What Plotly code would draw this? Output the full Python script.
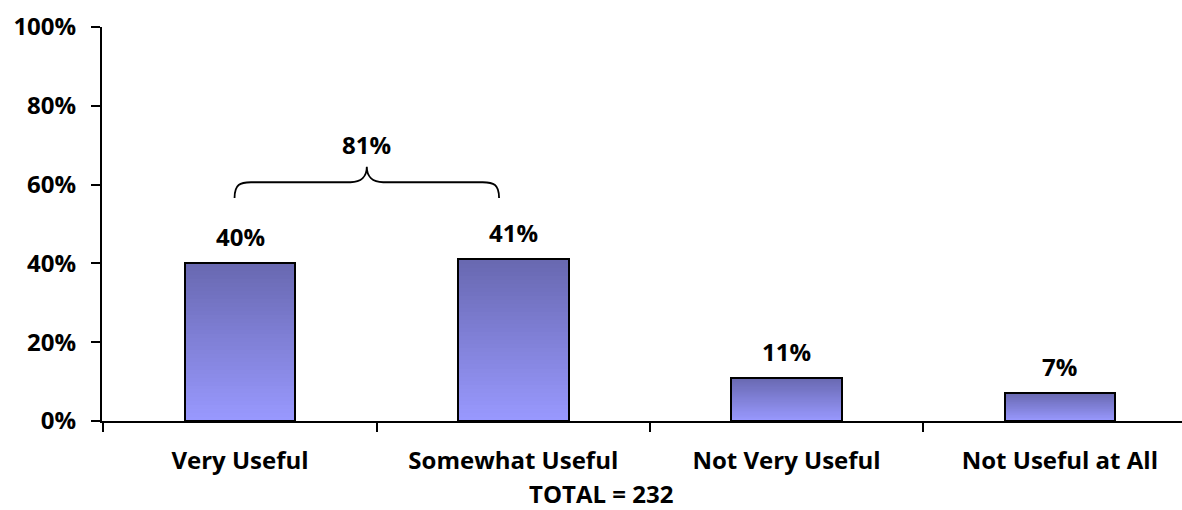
import plotly.graph_objects as go

# Survey results
categories = ["Very Useful", "Somewhat Useful", "Not Very Useful", "Not Useful at All"]
values = [40, 41, 11, 7]
value_labels = ["40%", "41%", "11%", "7%"]
combined_label = "81%"
total_label = "TOTAL = 232"
y_ticks = [0, 20, 40, 60, 80, 100]
y_tick_labels = ["0%", "20%", "40%", "60%", "80%", "100%"]

FONT = "Open Sans"
FS = 24
TOP_RGB = (104, 104, 176)
BOTTOM_RGB = (153, 153, 255)
N_LAYERS = 40
BAR_WIDTH = 0.405

fig = go.Figure()

# Vertical gradient in each bar: stacked overlays, darkest at the top
for k in range(N_LAYERS):
    t = (k + 0.5) / N_LAYERS
    rgb = tuple(round(a + (b - a) * t) for a, b in zip(TOP_RGB, BOTTOM_RGB))
    frac = 1 - k / N_LAYERS
    fig.add_trace(go.Bar(
        x=categories,
        y=[v * frac for v in values],
        width=BAR_WIDTH,
        marker=dict(color="rgb(%d,%d,%d)" % rgb, line=dict(width=0)),
        hoverinfo="skip",
        showlegend=False,
    ))

# Bar outlines
fig.add_trace(go.Bar(
    x=categories,
    y=values,
    width=BAR_WIDTH,
    marker=dict(color="rgba(0,0,0,0)", line=dict(color="black", width=2)),
    hoverinfo="skip",
    showlegend=False,
))

# Value labels above the bars
for cat, v, lab in zip(categories, values, value_labels):
    fig.add_annotation(
        x=cat, y=v, text="<b>%s</b>" % lab, showarrow=False,
        yanchor="bottom", yshift=8,
        font=dict(family=FONT, size=FS, color="black"),
    )

# Curly brace grouping the two "useful" answers
x0, x1 = -0.02, 0.948
xm = (x0 + x1) / 2
y_end, y_bar, y_tip = 56.6, 60.6, 64.5
dx = 0.06
brace = (
    f"M {x0},{y_end} C {x0},{y_bar - 0.5} {x0 + 0.02},{y_bar} {x0 + dx},{y_bar} "
    f"L {xm - dx},{y_bar} C {xm - 0.02},{y_bar} {xm},{y_bar + 1.5} {xm},{y_tip} "
    f"C {xm},{y_bar + 1.5} {xm + 0.02},{y_bar} {xm + dx},{y_bar} "
    f"L {x1 - dx},{y_bar} C {x1 - 0.02},{y_bar} {x1},{y_bar - 0.5} {x1},{y_end}"
)
fig.add_shape(type="path", path=brace, xref="x", yref="y",
              line=dict(color="black", width=1.8))
fig.add_annotation(
    x=xm, y=y_tip, text="<b>%s</b>" % combined_label, showarrow=False,
    yanchor="bottom", yshift=4,
    font=dict(family=FONT, size=FS, color="black"),
)

# Sample size note under the axis
fig.add_annotation(
    x=(601 - 102) / 1080, xref="paper", xanchor="center",
    y=-(493 - 421) / 394, yref="paper", yanchor="middle",
    text="<b>%s</b>" % total_label, showarrow=False,
    font=dict(family=FONT, size=FS, color="black"),
)

fig.update_layout(
    width=1182, height=510,
    margin=dict(l=102, r=0, t=27, b=89),
    barmode="overlay",
    bargap=0,
    plot_bgcolor="white",
    paper_bgcolor="white",
    showlegend=False,
    font=dict(family=FONT, size=FS, color="black"),
)

fig.update_xaxes(
    type="category",
    range=[-0.505, 3.447],
    showline=True, linecolor="black", linewidth=2,
    ticks="outside", tickson="boundaries", ticklen=9, tickwidth=2, tickcolor="black",
    showgrid=False, zeroline=False,
    tickfont=dict(family=FONT, size=FS, color="black"),
    tickvals=categories,
    ticktext=["<b>%s</b>" % c for c in categories],
    ticklabelstandoff=17,
)
fig.update_yaxes(
    range=[0, 100],
    showline=True, linecolor="black", linewidth=2,
    ticks="outside", ticklen=9, tickwidth=2, tickcolor="black",
    showgrid=False, zeroline=False,
    tickvals=y_ticks,
    ticktext=["<b>%s</b>" % t for t in y_tick_labels],
    tickfont=dict(family=FONT, size=FS, color="black"),
    ticklabelstandoff=10,
)

fig.write_html("out.html")
